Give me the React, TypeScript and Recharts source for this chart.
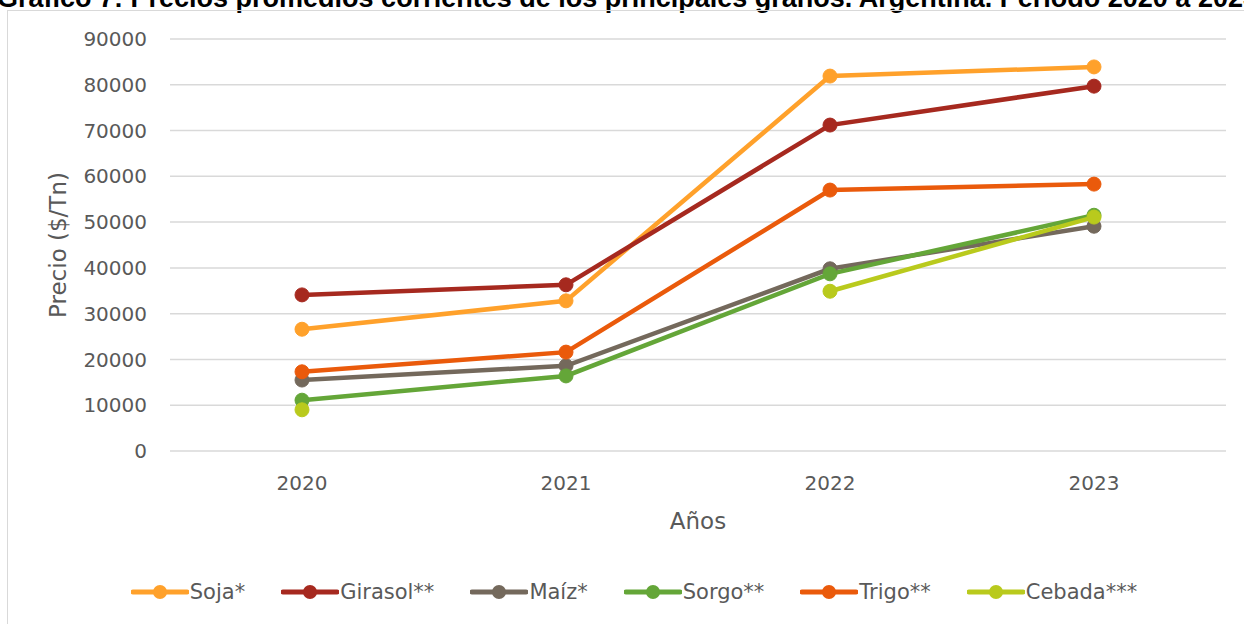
import React from 'react';
import {
  LineChart,
  Line,
  XAxis,
  YAxis,
  CartesianGrid,
  Label,
} from 'recharts';

// Años y precios promedios corrientes ($/Tn)
const years = ['2020', '2021', '2022', '2023'];
const soja = [26600, 32800, 81900, 83900];
const girasol = [34100, 36300, 71200, 79700];
const maiz = [15500, 18600, 39800, 49100];
const sorgo = [11100, 16400, 38700, 51500];
const trigo = [17300, 21600, 57000, 58300];
const cebada = [9000, null, 34900, 51100];
const yTicks = [0, 10000, 20000, 30000, 40000, 50000, 60000, 70000, 80000, 90000];

const series = [
  { key: 'soja', name: 'Soja*', values: soja, color: '#FFA12B' },
  { key: 'girasol', name: 'Girasol**', values: girasol, color: '#A6291F' },
  { key: 'maiz', name: 'Maíz*', values: maiz, color: '#74695C' },
  { key: 'sorgo', name: 'Sorgo**', values: sorgo, color: '#64A638' },
  { key: 'trigo', name: 'Trigo**', values: trigo, color: '#EA5A0B' },
  { key: 'cebada', name: 'Cebada***', values: cebada, color: '#B9CA1D' },
];

const chartData = years.map((year, i) => {
  const row: Record<string, any> = { year };
  series.forEach((s) => {
    row[s.key] = s.values[i];
  });
  return row;
});

const FONT = '"DejaVu Sans", sans-serif';
const GRAY = '#595959';

const LegendBox = () => (
  <div
    style={{
      position: 'absolute',
      top: 577,
      left: 12,
      width: 1244,
      display: 'flex',
      justifyContent: 'center',
      gap: 36,
      fontFamily: FONT,
      fontSize: 21,
      color: GRAY,
    }}
  >
    {series.map((s) => (
      <div key={s.key} style={{ display: 'flex', alignItems: 'center' }}>
        <svg width={58} height={30}>
          <line x1={2} y1={15} x2={56} y2={15} stroke={s.color} strokeWidth={5} strokeLinecap="round" />
          <circle cx={29} cy={15} r={7} fill={s.color} />
        </svg>
        <span style={{ marginLeft: 1 }}>{s.name}</span>
      </div>
    ))}
  </div>
);

export default function App() {
  return (
    <div
      style={{
        position: 'fixed',
        left: 0,
        top: 0,
        width: 1244,
        height: 624,
        overflow: 'hidden',
        background: '#fff',
      }}
    >
      <div
        style={{
          position: 'absolute',
          top: -15,
          left: -3,
          whiteSpace: 'nowrap',
          fontFamily: '"Liberation Sans", Arial, sans-serif',
          fontWeight: 'bold',
          fontSize: 27,
          lineHeight: '27px',
          color: '#000',
        }}
      >
        Gráfico 7: Precios promedios corrientes de los principales granos. Argentina. Período 2020 a 2023
      </div>
      <div
        style={{
          position: 'absolute',
          top: 10,
          left: 7,
          width: 1260,
          height: 640,
          border: '1.5px solid #d9d9d9',
        }}
      />
      <div style={{ position: 'absolute', top: 0, left: 0 }}>
        <LineChart
          width={1244}
          height={624}
          data={chartData}
          margin={{ top: 39, right: 18, left: 0, bottom: 83 }}
        >
          <CartesianGrid vertical={false} stroke="#d9d9d9" strokeWidth={1.5} />
          <XAxis
            dataKey="year"
            height={90}
            padding={{ left: 132, right: 132 }}
            axisLine={false}
            tickLine={false}
            tickSize={0}
            tickMargin={25}
            tick={{ fill: GRAY, fontSize: 20, fontFamily: FONT }}
          >
            <Label
              content={(props: any) => {
                const vb = props.viewBox;
                return (
                  <text
                    x={vb.x + vb.width / 2}
                    y={vb.y + 78}
                    textAnchor="middle"
                    fill={GRAY}
                    fontSize={23}
                    fontFamily={FONT}
                  >
                    Años
                  </text>
                );
              }}
            />
          </XAxis>
          <YAxis
            width={170}
            domain={[0, 90000]}
            ticks={yTicks}
            interval={0}
            axisLine={false}
            tickLine={false}
            tickSize={0}
            tickMargin={23}
            tick={{ fill: GRAY, fontSize: 20, fontFamily: FONT }}
          >
            <Label
              content={(props: any) => {
                const vb = props.viewBox;
                const cx = vb.x + 58;
                const cy = vb.y + vb.height / 2;
                return (
                  <text
                    x={cx}
                    y={cy}
                    transform={`rotate(-90 ${cx} ${cy})`}
                    textAnchor="middle"
                    dominantBaseline="central"
                    fill={GRAY}
                    fontSize={23}
                    fontFamily={FONT}
                  >
                    Precio ($/Tn)
                  </text>
                );
              }}
            />
          </YAxis>
          {series.map((s) => (
            <Line
              key={s.key}
              type="linear"
              dataKey={s.key}
              name={s.name}
              stroke={s.color}
              strokeWidth={4.5}
              dot={{ r: 7, fill: s.color, stroke: s.color, strokeWidth: 1 }}
              activeDot={false}
              connectNulls={false}
              isAnimationActive={false}
            />
          ))}
        </LineChart>
      </div>
      <LegendBox />
    </div>
  );
}
